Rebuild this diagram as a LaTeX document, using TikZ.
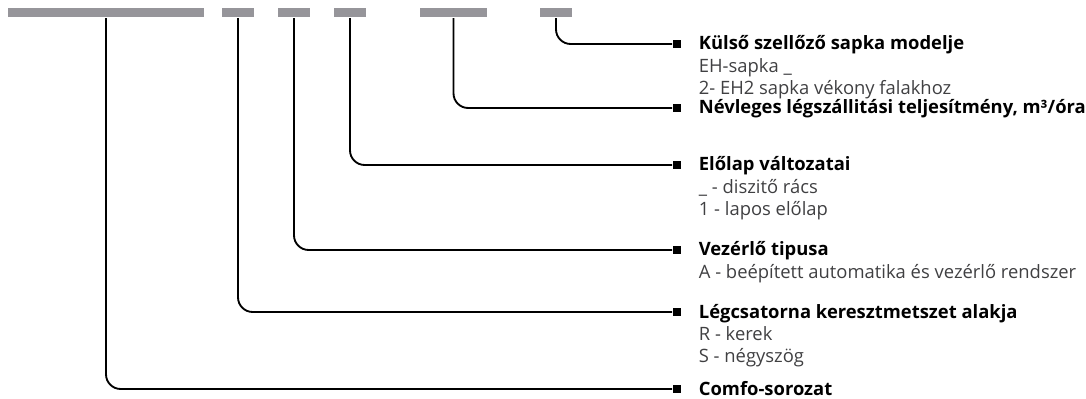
\documentclass[tikz,border=0pt]{standalone}
\usepackage{fontspec}
\setmainfont{Open Sans}
\usetikzlibrary{positioning}
\definecolor{bargray}{RGB}{150,149,154}
\definecolor{txtgray}{RGB}{64,64,66}

\begin{document}
\begin{tikzpicture}[x=0.75pt, y=-0.75pt, line width=1.4pt,
      bar/.style={fill=bargray, inner sep=0pt, minimum height=7.3pt, minimum width=#1},
      endbox/.style={fill=black, inner sep=0pt, minimum size=6pt},
      title/.style={font=\bfseries\fontsize{13.8}{16}\selectfont, inner sep=0pt,
        text height=9pt, text depth=0pt},
      detail/.style={font=\fontsize{13.8}{16}\selectfont, text=txtgray, inner sep=0pt},
      link/.style={draw, rounded corners=11pt}]
      \useasboundingbox (0,0) rectangle (1086,399);
      % code bars
      \node[bar=147pt] (b1) at (106,12.4) {};
      \node[bar=24pt] (b2) at (238,12.4) {};
      \node[bar=24pt] (b3) at (294,12.4) {};
      \node[bar=24pt] (b4) at (350,12.4) {};
      \node[bar=50pt] (b5) at (453.5,12.4) {};
      \node[bar=24pt] (b6) at (556,12.4) {};
      % end boxes
      \node[endbox] (m6) at (677,44) {};
      \node[endbox] (m5) at (677,108) {};
      \node[endbox] (m4) at (677,165) {};
      \node[endbox] (m3) at (677,250) {};
      \node[endbox] (m2) at (677,312) {};
      \node[endbox] (m1) at (677,389) {};
      % links
      \path[link] (b6.south) |- (m6.west);
      \path[link] (b5.south) |- (m5.west);
      \path[link] (b4.south) |- (m4.west);
      \path[link] (b3.south) |- (m3.west);
      \path[link] (b2.south) |- (m2.west);
      \path[link] (b1.south) |- (m1.west);
      % titles and options
      \node[title, right=12pt of m6] (t6) {Külső szellőző sapka modelje};
      \node[detail, below=17pt of t6.base west, anchor=base west] (d6a) {EH-sapka \_};
      \node[detail, below=16.1pt of d6a.base west, anchor=base west] (d6b) {2- EH2 sapka vékony falakhoz};
      \node[title, right=12pt of m5] (t5) {Névleges légszállitási teljesítmény, m³/óra};
      \node[title, right=12pt of m4] (t4) {Előlap változatai};
      \node[detail, below=17pt of t4.base west, anchor=base west] (d4a) {\_ - diszitő rács};
      \node[detail, below=16.1pt of d4a.base west, anchor=base west] (d4b) {1 - lapos előlap};
      \node[title, right=12pt of m3] (t3) {Vezérlő tipusa};
      \node[detail, below=17pt of t3.base west, anchor=base west] (d3a) {A - beépített automatika és vezérlő rendszer};
      \node[title, right=12pt of m2] (t2) {Légcsatorna keresztmetszet alakja};
      \node[detail, below=17pt of t2.base west, anchor=base west] (d2a) {R - kerek};
      \node[detail, below=16.1pt of d2a.base west, anchor=base west] (d2b) {S - négyszög};
      \node[title, right=12pt of m1] (t1) {Comfo-sorozat};
  \end{tikzpicture}
\end{document}
